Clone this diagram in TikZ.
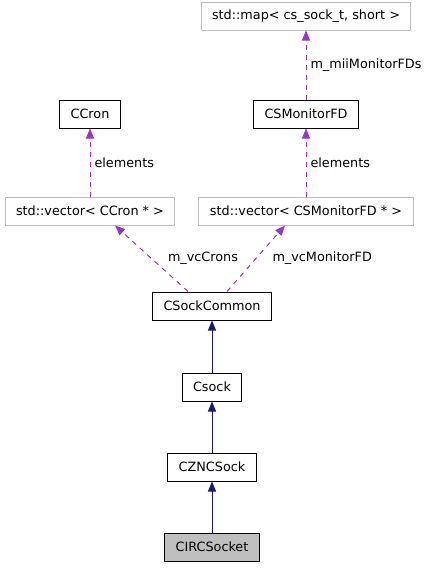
\documentclass[tikz,border=0pt]{standalone}
\usepackage{fontspec}
\setmainfont{DejaVu Sans}
\definecolor{colinherit}{HTML}{191970}
\definecolor{coluse}{HTML}{9A32CD}
\definecolor{colgrey}{HTML}{BFBFBF}
\usetikzlibrary{
	arrows.meta,
	positioning
}
\tikzset{
	>={Triangle[length=10pt, width=8pt]},
	classnode/.style={draw, line width=1pt, minimum height=28pt, inner xsep=11pt, inner ysep=3pt},
	extnode/.style={classnode, draw=colgrey},
	inheritedge/.style={color=colinherit, line width=1pt},
	useedge/.style={color=coluse, line width=1pt, dash pattern=on 5pt off 5pt},
	edgelabel/.style={right, inner sep=4pt, text=black}
}

\begin{document}
\begin{tikzpicture}[x=1pt, y=1pt, font=\fontsize{12.8pt}{14pt}\selectfont]
	\useasboundingbox (0,0) rectangle (428,-568);

	\node[classnode, fill=colgrey] (CIRCSocket) at (212,-547) {CIRCSocket};
	\node[classnode] (CZNCSock) [above=51pt of CIRCSocket] {CZNCSock};
	\node[classnode] (Csock) [above=51pt of CZNCSock] {Csock};
	\node[classnode] (CSockCommon) [above=52pt of Csock] {CSockCommon};
	\node[extnode] (vecCron) at (90,-211) {std::vector< CCron * >};
	\node[extnode] (vecMonitorFD) at (306,-211) {std::vector< CSMonitorFD * >};
	\node[classnode] (CCron) [above=68pt of vecCron] {CCron};
	\node[classnode] (CSMonitorFD) [above=68pt of vecMonitorFD] {CSMonitorFD};
	\node[extnode] (mapSock) [above=69pt of CSMonitorFD] {std::map< cs\_sock\_t, short >};

	\path[inheritedge]
		(CIRCSocket) edge[->] (CZNCSock)
		(CZNCSock) edge[->] (Csock)
		(Csock) edge[->] (CSockCommon)
	;

	\path[useedge]
		(vecCron) edge[->] node[edgelabel] {elements} (CCron)
		(vecMonitorFD) edge[->] node[edgelabel] {elements} (CSMonitorFD)
		(CSMonitorFD) edge[->] node[edgelabel] {m\_miiMonitorFDs} (mapSock)
	;

	\path[useedge]
		([xshift=-24pt]CSockCommon.north) edge[->] node[edgelabel, xshift=12pt] {m\_vcCrons} ([xshift=25pt]vecCron.south)
		([xshift=15pt]CSockCommon.north) edge[->] node[edgelabel, xshift=12pt] {m\_vcMonitorFD} ([xshift=-21pt]vecMonitorFD.south)
	;
\end{tikzpicture}
\end{document}
